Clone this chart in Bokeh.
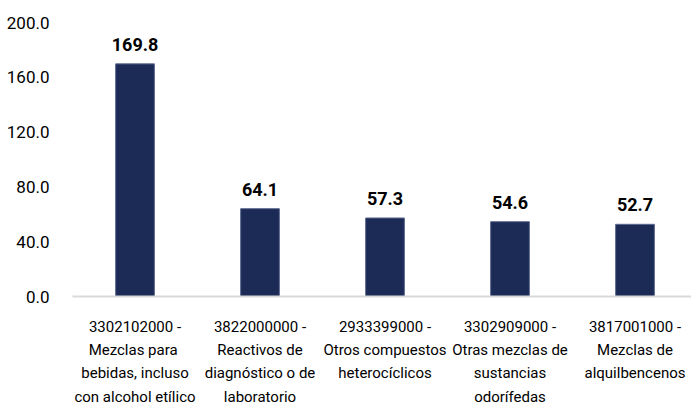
from bokeh.plotting import figure
from bokeh.models import ColumnDataSource, Range1d, FixedTicker
from bokeh.core.properties import value
from bokeh.embed import file_html
from bokeh.resources import INLINE

categories = [
    "3302102000 -\nMezclas  para\nbebidas, incluso\ncon alcohol etílico",
    "3822000000 -\nReactivos de\ndiagnóstico o de\nlaboratorio",
    "2933399000 -\nOtros compuestos\nheterocíclicos",
    "3302909000 -\nOtras mezclas de\nsustancias\nodorífedas",
    "3817001000 -\nMezclas de\nalquilbencenos",
]
values = [169.8, 64.1, 57.3, 54.6, 52.7]
y_ticks = [0, 40, 80, 120, 160, 200]

FONT = "Roboto"

xs = [i + 0.5 for i in range(len(categories))]
src = ColumnDataSource(dict(x=xs, top=values, label=[f"{v:.1f}" for v in values]))

p = figure(width=691, height=410, output_backend="svg", toolbar_location=None,
           x_range=Range1d(0, 4.952), y_range=Range1d(0, 200),
           min_border_left=72, min_border_right=0, min_border_top=22, min_border_bottom=114)
p.outline_line_color = None
p.xgrid.grid_line_color = None
p.ygrid.grid_line_color = None

p.vbar(x="x", top="top", width=0.31, bottom=0, source=src,
       fill_color="#1c2a56", line_color="#5d6890", line_width=1)

p.text(x="x", y="top", text="label", source=src, text_align="center",
       text_baseline="bottom", y_offset=-13, text_font=value(FONT),
       text_font_size="18px", text_font_style="bold", text_color="#000000")

p.yaxis.ticker = FixedTicker(ticks=y_ticks)
p.yaxis.major_label_overrides = {t: f"{t:.1f}" for t in y_ticks}
p.yaxis.axis_line_color = None
p.yaxis.major_tick_line_color = None
p.yaxis.minor_tick_line_color = None
p.yaxis.major_tick_out = 0
p.yaxis.major_tick_in = 0
p.yaxis.major_label_standoff = 23
p.yaxis.major_label_text_font = FONT
p.yaxis.major_label_text_font_size = "17px"
p.yaxis.major_label_text_color = "#000000"

p.xaxis.ticker = FixedTicker(ticks=xs)
p.xaxis.major_label_overrides = {x: c for x, c in zip(xs, categories)}
p.xaxis.axis_line_color = "#d9d9d9"
p.xaxis.axis_line_width = 2
p.xaxis.major_tick_line_color = None
p.xaxis.minor_tick_line_color = None
p.xaxis.major_tick_out = 0
p.xaxis.major_tick_in = 0
p.xaxis.major_label_standoff = 21
p.xaxis.major_label_text_font = FONT
p.xaxis.major_label_text_font_size = "15px"
p.xaxis.major_label_text_color = "#000000"
p.xaxis.major_label_text_line_height = 1.3

open("out.html", "w").write(file_html(p, INLINE))
